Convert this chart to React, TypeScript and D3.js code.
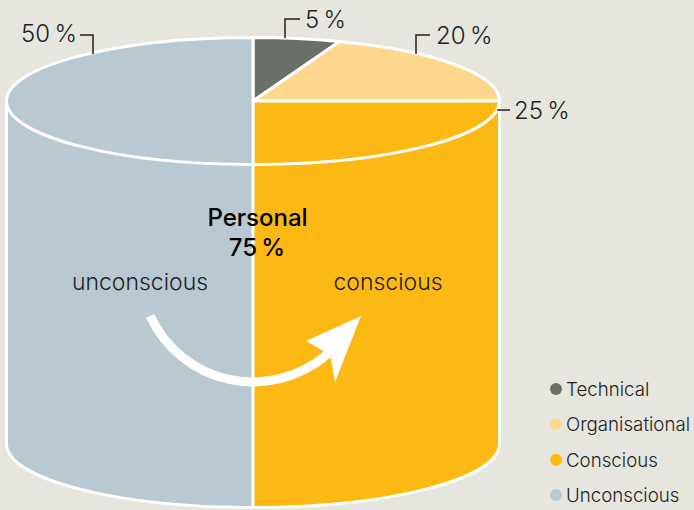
import React from "react";
import * as d3 from "d3";

const width = 694;
const height = 510;

// clockwise from 12 o'clock
const sliceNames = ["Technical", "Organisational", "Conscious", "Unconscious"];
const sliceValues = [5.7, 19.3, 25, 50];
const sliceColors = ["#6a7068", "#fed78e", "#fdb913", "#b9c9d2"];
const sliceLabels = ["5\u2009%", "20\u2009%", "25\u2009%", "50\u2009%"];

const fontFamily = "Inter, 'Liberation Sans', sans-serif";
const inkColor = "#231f20";

const cx = 253;
const topY = 101;
const bottomY = 444;
const rx = 246.5;
const ry = 63.5;

// unit arcs, squashed into an ellipse by the group's transform
const pie = d3.pie<number>().value((d) => d).sort(null);
const unitArc = d3.arc<d3.PieArcDatum<number>>().innerRadius(0).outerRadius(1);

const legendY = d3.scalePoint<string>().domain(sliceNames).range([389, 495]);

// arrow between the two inner labels
const arrowCenter: [number, number] = [253, 269];
const deg = (d: number) => (d * Math.PI) / 180;
const arrowBand = d3
  .arc()
  .innerRadius(108.5)
  .outerRadius(117.5)
  .startAngle(deg(139))
  .endAngle(deg(245.5));
const arrowHead = [
  [361, 316],
  [335, 382],
  [331, 359],
  [325, 352],
  [306, 341],
];

const leaders = [
  { d: "M285,38V19H300", x: 305, y: 28, label: sliceLabels[0] },
  { d: "M416,54V35H430", x: 436, y: 44, label: sliceLabels[1] },
  { d: "M497,110H510", x: 514, y: 119, label: sliceLabels[2] },
  { d: "M93,54V35H80", x: 21, y: 42, label: sliceLabels[3] },
];

export default function App() {
  const arcs = pie(sliceValues);
  document.body.style.margin = "0";

  return (
    <svg width={width} height={height} style={{ display: "block", background: "#e6e6de" }} fontFamily={fontFamily}>
      {/* cylinder wall */}
      <path d={`M${cx - rx},${topY}V${bottomY}A${rx},${ry} 0 0 0 ${cx},${bottomY + ry}V${topY}Z`} fill={sliceColors[3]} />
      <path d={`M${cx + rx},${topY}V${bottomY}A${rx},${ry} 0 0 1 ${cx},${bottomY + ry}V${topY}Z`} fill={sliceColors[2]} />
      <path
        d={`M${cx - rx},${topY}V${bottomY}A${rx},${ry} 0 0 0 ${cx + rx},${bottomY}V${topY}`}
        fill="none"
        stroke="#fff"
        strokeWidth={3}
      />
      <line x1={cx} x2={cx} y1={topY} y2={bottomY + ry} stroke="#fff" strokeWidth={3} />

      {/* top ellipse */}
      <g transform={`translate(${cx},${topY}) scale(${rx},${ry})`}>
        {arcs.map((a, i) => (
          <path
            key={sliceNames[i]}
            d={unitArc(a) as string}
            fill={sliceColors[i]}
            stroke="#fff"
            strokeWidth={3}
            vectorEffect="non-scaling-stroke"
          />
        ))}
      </g>

      {/* leaders + percent labels */}
      {leaders.map((l) => (
        <g key={l.label}>
          <path d={l.d} fill="none" stroke={inkColor} strokeWidth={1.5} />
          <text x={l.x} y={l.y} fontSize={24} fontWeight={300} fill={inkColor}>
            {l.label}
          </text>
        </g>
      ))}

      {/* arrow */}
      <g fill="#fff">
        <path d={arrowBand(null as any) as string} transform={`translate(${arrowCenter})`} />
        <polygon points={arrowHead.join(" ")} />
      </g>

      <text x={257.5} y={226} textAnchor="middle" fontSize={24} fontWeight={500} fill="#000">
        Personal
      </text>
      <text x={257} y={256} textAnchor="middle" fontSize={24} fontWeight={500} fill="#000">
        75{"\u2009"}%
      </text>
      <text x={140} y={290} textAnchor="middle" fontSize={23} fontWeight={300} fill={inkColor}>
        unconscious
      </text>
      <text x={388} y={290} textAnchor="middle" fontSize={23} fontWeight={300} fill={inkColor}>
        conscious
      </text>

      {/* legend */}
      {sliceNames.map((name, i) => (
        <g key={name} transform={`translate(0,${legendY(name)})`}>
          <circle cx={556} cy={0} r={6} fill={sliceColors[i]} />
          <text x={566} y={7} fontSize={18.7} fontWeight={300} fill={inkColor}>
            {name}
          </text>
        </g>
      ))}
    </svg>
  );
}
